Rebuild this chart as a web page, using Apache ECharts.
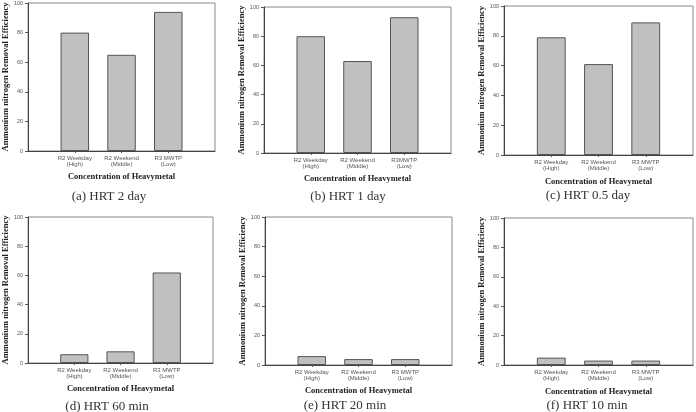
<!DOCTYPE html>
<html>
<head>
<meta charset="utf-8">
<script src="https://cdn.jsdelivr.net/npm/echarts@6/dist/echarts.min.js"></script>
<style>html,body{margin:0;padding:0;background:#fff}#c{width:696px;height:412px}</style>
</head>
<body>
<div id="c"></div>
<script>
// ---- data ----
var categories = ['', 'R2 Weekday\n(High)', 'R2 Weekend\n(Middle)', 'R3 MWTP\n(Low)', ''];
var categoriesB = ['', 'R2 Weekday\n(High)', 'R2 Weekend\n(Middle)', 'R3MWTP\n(Low)', ''];
var yTicks = [0, 20, 40, 60, 80, 100];
var hrt2day = [80, 65, 94];
var hrt1day = [80, 63, 93];
var hrt05day = [79, 61, 89];
var hrt60min = [6, 8, 62];
var hrt20min = [6, 4, 4];
var hrt10min = [5, 3, 3];
var captions = ['(a) HRT 2 day', '(b) HRT 1 day', '(c) HRT 0.5 day', '(d) HRT 60 min', '(e) HRT 20 min', '(f) HRT 10 min'];
var yTitle = 'Ammonium nitrogen Removal Efficiency';
var xTitle = 'Concentration of Heavymetal';

// ---- layout ----
var panels = [
  {grid: {left: 26, top: 3, width: 189, height: 148}, cats: categories, vals: hrt2day, cap: [109, 197], yGap: 17, xGap: 21},
  {grid: {left: 264, top: 7, width: 187, height: 146}, cats: categoriesB, vals: hrt1day, cap: [348, 197], yGap: 16, xGap: 21},
  {grid: {left: 504, top: 6, width: 190, height: 149}, cats: categories, vals: hrt05day, cap: [588, 196], yGap: 18, xGap: 22},
  {grid: {left: 26, top: 217, width: 187, height: 146}, cats: categories, vals: hrt60min, cap: [107, 407], yGap: 17, xGap: 21},
  {grid: {left: 265, top: 217, width: 187, height: 148}, cats: categories, vals: hrt20min, cap: [345, 406], yGap: 16, xGap: 21},
  {grid: {left: 504, top: 218, width: 189, height: 147}, cats: categories, vals: hrt10min, cap: [587, 406], yGap: 17, xGap: 22}
];

var grids = [], xAxes = [], yAxes = [], series = [], graphics = [];
panels.forEach(function (p, i) {
  grids.push(Object.assign({show: true, borderColor: '#888', borderWidth: 1, backgroundColor: 'transparent'}, p.grid));
  xAxes.push({
    type: 'category', gridIndex: i, data: p.cats, boundaryGap: false,
    axisLine: {lineStyle: {color: '#444', width: 1}},
    axisTick: {show: true, length: 2, interval: function (idx) { return idx > 0 && idx < 4; }, lineStyle: {color: '#555'}},
    axisLabel: {interval: 0, fontFamily: 'Liberation Sans', fontSize: 6, color: '#555', lineHeight: 6, margin: 4},
    name: xTitle, nameLocation: 'middle', nameGap: p.xGap,
    nameTextStyle: {fontFamily: 'Liberation Serif', fontWeight: 'bold', fontSize: 8.5, color: '#222'}
  });
  yAxes.push({
    type: 'value', gridIndex: i, min: yTicks[0], max: yTicks[yTicks.length - 1], interval: yTicks[1] - yTicks[0],
    splitLine: {show: false},
    axisLine: {show: true, lineStyle: {color: '#444', width: 1}},
    axisTick: {show: true, length: 3, lineStyle: {color: '#555'}},
    axisLabel: {fontFamily: 'Liberation Sans', fontSize: 5.5, color: '#555', margin: 5},
    name: yTitle, nameLocation: 'middle', nameGap: p.yGap,
    nameTextStyle: {fontFamily: 'Liberation Serif', fontWeight: 'bold', fontSize: 8.5, color: '#222'}
  });
  series.push({
    type: 'bar', xAxisIndex: i, yAxisIndex: i,
    data: [null].concat(p.vals).concat([null]),
    barWidth: '61%',
    itemStyle: {color: '#c0c0c0', borderColor: '#555', borderWidth: 1},
    silent: true
  });
  graphics.push({
    type: 'text', x: p.cap[0], y: p.cap[1],
    style: {text: captions[i], font: '13px "Liberation Serif"', fill: '#333', align: 'center', verticalAlign: 'middle'}
  });
});

var chart = echarts.init(document.getElementById('c'), null, {renderer: 'canvas'});
chart.setOption({
  animation: false,
  grid: grids, xAxis: xAxes, yAxis: yAxes, series: series, graphic: graphics
});
</script>
</body>
</html>
